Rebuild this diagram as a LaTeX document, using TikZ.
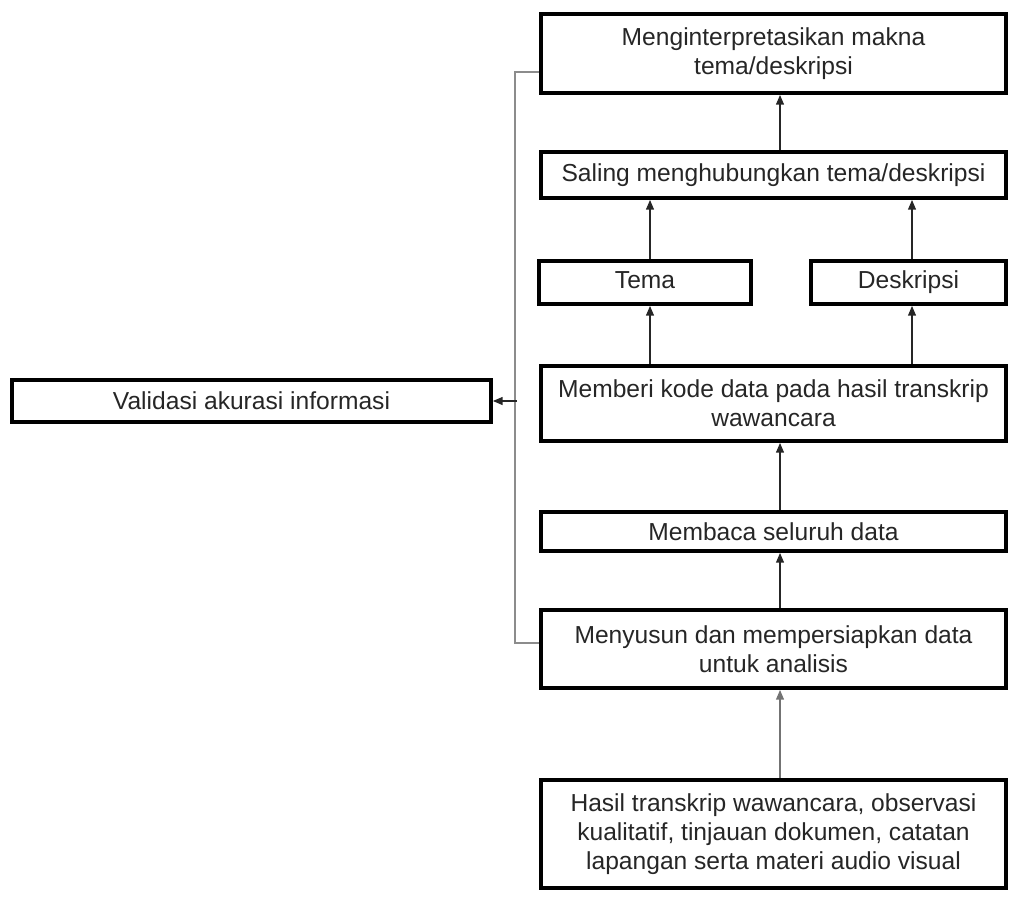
\documentclass[tikz,border=0pt]{standalone}
\usepackage{fontspec}
\setmainfont{Liberation Sans}
\usetikzlibrary{arrows.meta,positioning}
\tikzset{box/.style={draw,line width=2.2pt,align=center,inner sep=0pt,text=black!85,font=\fontsize{14pt}{16.5pt}\selectfont},
  link/.style={-{Triangle[length=5.5pt,width=4.5pt]},line width=0.7pt,draw=black!85},
  feed/.style={line width=0.8pt,draw=black!45}}

\begin{document}
\begin{tikzpicture}[x=0.02cm,y=-0.02cm]
    \useasboundingbox (0,0) rectangle (1017,896);
    % main column
    \node[box,minimum width=9.3cm,minimum height=1.58cm] (interp) at (773.5,53.5) {Menginterpretasikan makna\\tema/deskripsi};
    \node[box,minimum width=9.3cm,minimum height=0.92cm] (saling) at (773.5,175) {Saling menghubungkan tema/deskripsi};
    \node[box,minimum width=4.24cm,minimum height=0.86cm,text height=1.6ex,text depth=.4ex] (tema) at (645,282.5) {Tema};
    \node[box,minimum width=3.9cm,minimum height=0.86cm,text height=1.6ex,text depth=.4ex] (desk) at (908.5,282.5) {Deskripsi};
    \node[box,minimum width=9.3cm,minimum height=1.5cm] (kode) at (773.5,403.5) {Memberi kode data pada hasil transkrip\\wawancara};
    \node[box,minimum width=9.3cm,minimum height=0.78cm] (baca) at (773.5,531.5) {Membaca seluruh data};
    \node[box,minimum width=9.3cm,minimum height=1.56cm] (susun) at (773.5,649) {Menyusun dan mempersiapkan data\\untuk analisis};
    \node[box,minimum width=9.3cm,minimum height=2.16cm] (hasil) at (773.5,834) {Hasil transkrip wawancara, observasi\\kualitatif, tinjauan dokumen, catatan\\lapangan serta materi audio visual};
    % validation
    \node[box,minimum width=9.58cm,minimum height=0.84cm] (valid) at (251.5,401) {Validasi akurasi informasi};
    \coordinate (mid) at (780,0);
    \coordinate (gx) at (517,401);
    % arrows
    \draw[link] (saling.north -| mid) -- (interp.south -| mid);
    \draw[link] ([xshift=0.1cm]tema.north) -- ([xshift=0.1cm]tema.north |- saling.south);
    \draw[link] ([xshift=0.07cm]desk.north) -- ([xshift=0.07cm]desk.north |- saling.south);
    \draw[link] ([xshift=0.1cm]tema.south |- kode.north) -- ([xshift=0.1cm]tema.south);
    \draw[link] ([xshift=0.07cm]desk.south |- kode.north) -- ([xshift=0.07cm]desk.south);
    \draw[link] (baca.north -| mid) -- (kode.south -| mid);
    \draw[link] (susun.north -| mid) -- (baca.south -| mid);
    \draw[link,draw=black!55] (hasil.north -| mid) -- (susun.south -| mid);
    % feedback line
    \draw[feed] ([yshift=-0.37cm]interp.west) -- ++(-24,0) |- ([yshift=0.12cm]susun.west);
    \draw[link] (gx) -- (valid.east);
\end{tikzpicture}
\end{document}
